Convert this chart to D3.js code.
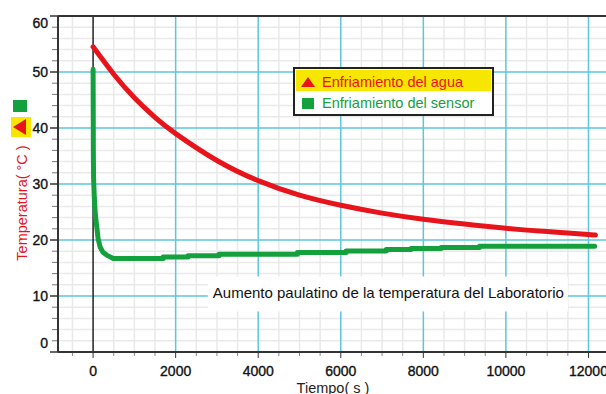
<!DOCTYPE html>
<html>
<head>
<meta charset="utf-8">
<script src="https://cdn.jsdelivr.net/npm/d3@7"></script>
<style>
  body { margin: 0; background: #fff; }
  svg { display: block; font-family: "Liberation Sans", Arial, sans-serif; }
</style>
</head>
<body>
<svg id="chart"></svg>
<script>
// Enfriamiento del agua (tiempo s, temperatura C)
var aguaTiempo = [0, 500, 1000, 1500, 2000, 3000, 4000, 5000, 6000, 7000, 8000, 9000, 10000, 11000, 12000, 12150];
var aguaTemp   = [54.5, 49.6, 45.4, 41.9, 39.0, 34.2, 30.6, 28.0, 26.2, 24.8, 23.7, 22.85, 22.1, 21.5, 21.0, 20.9];

// Enfriamiento del sensor (lecturas escalonadas)
var sensorTiempo = [0, 3, 6, 12, 30, 55, 90, 120, 170, 240, 330, 490, 1700, 1700, 2300, 2300, 3050, 3050, 4950, 4950, 6130, 6130, 7100, 7100, 7700, 7700, 8430, 8430, 9360, 9360, 12150];
var sensorTemp   = [50.5, 44, 36, 31, 27.5, 24.5, 22.3, 20.3, 18.75, 17.8, 17.3, 16.7, 16.7, 16.95, 16.95, 17.2, 17.2, 17.45, 17.45, 17.75, 17.75, 18.05, 18.05, 18.3, 18.3, 18.5, 18.5, 18.65, 18.65, 18.9, 18.9];

var xTicks = [0, 2000, 4000, 6000, 8000, 10000, 12000];
var yTicks = [0, 10, 20, 30, 40, 50, 60];
var serieNombres = ["Enfriamiento del agua", "Enfriamiento del sensor"];
var nota = "Aumento paulatino de la temperatura del Laboratorio";
var notaPos = [2900, 10.5];

var W = 606, H = 394;
var pLeft = 58, pRight = 612, pTop = 16, pBottom = 352;

var red = "#e8141c", green = "#14a03c", cyan = "#5cc6dc", yellow = "#f6e600";

var svg = d3.select("#chart").attr("width", W).attr("height", H);

var x = d3.scaleLinear().domain([-850, 12570]).range([pLeft, pRight]);
var y = d3.scaleLinear().domain([0, 60]).range([pBottom, pTop]);

// minor grid
var xMinor = d3.range(-500, 12600, 500).filter(function (d) { return d % 2000 != 0; });
var yMinor = d3.range(2, 60, 2).filter(function (d) { return d % 10 != 0; });

var grid = svg.append("g");
grid.selectAll(".xm").data(xMinor).enter().append("line")
    .attr("x1", function (d) { return x(d); }).attr("x2", function (d) { return x(d); })
    .attr("y1", pTop).attr("y2", pBottom)
    .attr("stroke", "#e9e9e9").attr("stroke-width", 1.5);
grid.selectAll(".ym").data(yMinor).enter().append("line")
    .attr("x1", pLeft).attr("x2", pRight)
    .attr("y1", function (d) { return y(d); }).attr("y2", function (d) { return y(d); })
    .attr("stroke", "#e9e9e9").attr("stroke-width", 1.5);

// major grid
grid.selectAll(".xM").data(xTicks.filter(function (d) { return d != 0; })).enter().append("line")
    .attr("x1", function (d) { return x(d); }).attr("x2", function (d) { return x(d); })
    .attr("y1", pTop).attr("y2", pBottom)
    .attr("stroke", cyan).attr("stroke-width", 1.5);
grid.selectAll(".yM").data(yTicks.filter(function (d) { return d != 0 && d != 60; })).enter().append("line")
    .attr("x1", pLeft).attr("x2", pRight)
    .attr("y1", function (d) { return y(d); }).attr("y2", function (d) { return y(d); })
    .attr("stroke", cyan).attr("stroke-width", 1.5);

// annotation with white box
var notaG = svg.append("g");
var notaRect = notaG.append("rect").attr("fill", "#fff");
var notaText = notaG.append("text")
    .attr("x", x(notaPos[0])).attr("y", y(notaPos[1]))
    .attr("dy", "0.35em")
    .attr("font-size", "15px").attr("fill", "#111")
    .text(nota);
var bb = notaText.node().getBBox();
notaRect.attr("x", bb.x - 5).attr("y", bb.y - 8).attr("width", bb.width + 9).attr("height", bb.height + 18);

// zero line
svg.append("line")
    .attr("x1", x(0)).attr("x2", x(0)).attr("y1", pTop).attr("y2", pBottom)
    .attr("stroke", "#222").attr("stroke-width", 1.5);

// axes
var xAxis = svg.append("g").attr("transform", "translate(0," + pBottom + ")");
xAxis.selectAll(".t").data(xMinor).enter().append("line")
    .attr("x1", function (d) { return x(d); }).attr("x2", function (d) { return x(d); })
    .attr("y1", 0).attr("y2", 4).attr("stroke", "#888");
xAxis.selectAll(".T").data(xTicks).enter().append("line")
    .attr("x1", function (d) { return x(d); }).attr("x2", function (d) { return x(d); })
    .attr("y1", 0).attr("y2", 6).attr("stroke", "#333");
xAxis.selectAll("text").data(xTicks).enter().append("text")
    .attr("x", function (d) { return x(d); }).attr("y", 24)
    .attr("text-anchor", "middle").attr("font-size", "14px").attr("fill", "#111")
    .attr("stroke", "#111").attr("stroke-width", 0.35)
    .text(function (d) { return d; });

var yAxis = svg.append("g").attr("transform", "translate(" + pLeft + ",0)");
yAxis.selectAll(".t").data(yMinor).enter().append("line")
    .attr("x1", -6).attr("x2", 0)
    .attr("y1", function (d) { return y(d); }).attr("y2", function (d) { return y(d); })
    .attr("stroke", "#777");
yAxis.selectAll(".T").data(yTicks).enter().append("line")
    .attr("x1", -8).attr("x2", 0)
    .attr("y1", function (d) { return y(d); }).attr("y2", function (d) { return y(d); })
    .attr("stroke", "#333").attr("stroke-width", 1.5);
yAxis.selectAll("text").data(yTicks).enter().append("text")
    .attr("x", -10)
    .attr("y", function (d) { return d == 0 ? y(d) - 9 : (d == 60 ? y(d) + 7 : y(d)); })
    .attr("dy", "0.35em")
    .attr("text-anchor", "end").attr("font-size", "14px").attr("fill", "#111")
    .attr("stroke", "#111").attr("stroke-width", 0.35)
    .text(function (d) { return d; });

// frame
svg.append("line").attr("x1", pLeft).attr("x2", pRight).attr("y1", pTop).attr("y2", pTop)
    .attr("stroke", "#333").attr("stroke-width", 2);
svg.append("line").attr("x1", pLeft).attr("x2", pRight).attr("y1", pBottom).attr("y2", pBottom)
    .attr("stroke", "#333").attr("stroke-width", 2);
svg.append("line").attr("x1", pLeft).attr("x2", pLeft).attr("y1", pTop).attr("y2", pBottom)
    .attr("stroke", "#333").attr("stroke-width", 2);

// axis titles
svg.append("text")
    .attr("transform", "translate(27,203) rotate(-90)")
    .attr("text-anchor", "middle").attr("font-size", "14.5px").attr("fill", red)
    .text("Temperatura( °C )");
svg.append("text")
    .attr("x", 333).attr("y", 393)
    .attr("text-anchor", "middle").attr("font-size", "14.5px").attr("fill", "#222")
    .text("Tiempo( s )");

// series
var line = d3.line()
    .x(function (d) { return x(d[0]); })
    .y(function (d) { return y(d[1]); });

var agua = aguaTiempo.map(function (t, i) { return [t, aguaTemp[i]]; });
var sensor = sensorTiempo.map(function (t, i) { return [t, sensorTemp[i]]; });

svg.append("path").datum(sensor)
    .attr("d", line)
    .attr("fill", "none").attr("stroke", green).attr("stroke-width", 5)
    .attr("stroke-linejoin", "round").attr("stroke-linecap", "round");
svg.append("path").datum(agua)
    .attr("d", line.curve(d3.curveNatural))
    .attr("fill", "none").attr("stroke", red).attr("stroke-width", 5)
    .attr("stroke-linejoin", "round").attr("stroke-linecap", "round");

// legend
var lg = svg.append("g").attr("transform", "translate(294,68)");
lg.append("rect").attr("x", 0).attr("y", 0).attr("width", 199).attr("height", 47)
    .attr("fill", "#fff").attr("stroke", "#222").attr("stroke-width", 2);
lg.append("rect").attr("x", 2).attr("y", 2).attr("width", 195).attr("height", 21).attr("fill", yellow);
lg.append("path").attr("d", "M7,19 L14,9 L21,19 Z").attr("fill", red);
lg.append("rect").attr("x", 8).attr("y", 30).attr("width", 12).attr("height", 11).attr("fill", green);
lg.append("text").attr("x", 28).attr("y", 19).attr("font-size", "14.5px").attr("fill", red).text(serieNombres[0]);
lg.append("text").attr("x", 28).attr("y", 40).attr("font-size", "14.5px").attr("fill", green).text(serieNombres[1]);

// small markers left of the y axis
svg.append("rect").attr("x", 13).attr("y", 100).attr("width", 14).attr("height", 12).attr("fill", green);
svg.append("rect").attr("x", 11).attr("y", 117).attr("width", 20).attr("height", 20).attr("fill", yellow);
svg.append("path").attr("d", "M13,127 L26,119 L26,135 Z").attr("fill", red);
</script>
</body>
</html>
